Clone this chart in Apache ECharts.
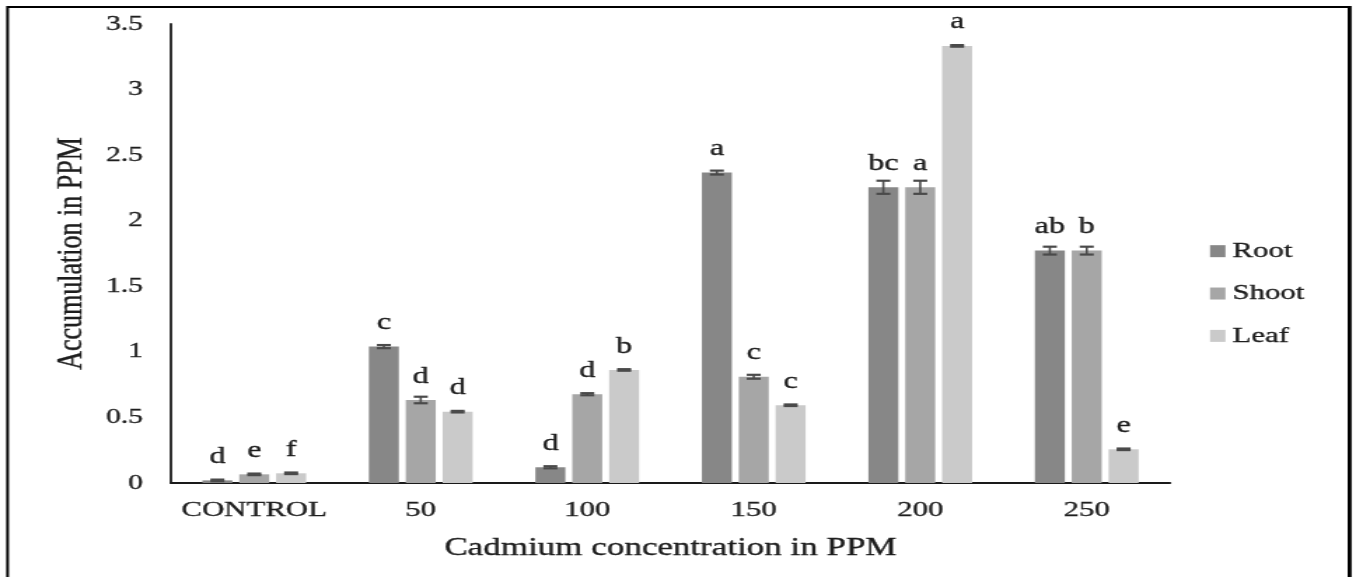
<!DOCTYPE html>
<html>
<head>
<meta charset="utf-8">
<script src="https://cdn.jsdelivr.net/npm/echarts@6/dist/echarts.min.js"></script>
<style>
  html, body { margin: 0; padding: 0; background: #fff; overflow: hidden; }
  #wrap { width: 1356px; height: 577px; overflow: hidden; position: relative; }
  /* the figure is drawn narrower and widened horizontally, giving its wide letterforms */
  #chart { width: 968px; height: 577px; transform: scaleX(1.40083); transform-origin: 0 0; }
</style>
</head>
<body>
<div id="wrap"><div id="chart"></div></div>
<script>
// Cadmium accumulation (PPM) by treatment concentration
const categories = ['CONTROL', '50', '100', '150', '200', '250'];
const yTicks = { min: 0, max: 3.5, step: 0.5 };

const rootValues  = [0.02, 1.04, 0.12, 2.367, 2.255, 1.772];
const shootValues = [0.066, 0.633, 0.677, 0.81, 2.255, 1.772];
const leafValues  = [0.074, 0.544, 0.862, 0.593, 3.333, 0.257];

const rootErrors  = [0.006, 0.012, 0.008, 0.015, 0.05, 0.03];
const shootErrors = [0.006, 0.025, 0.008, 0.015, 0.05, 0.03];
const leafErrors  = [0.006, 0.006, 0.006, 0.006, 0.006, 0.006];

const rootLetters  = ['d', 'c', 'd', 'a', 'bc', 'ab'];
const shootLetters = ['e', 'd', 'd', 'c', 'a', 'b'];
const leafLetters  = ['f', 'd', 'b', 'c', 'a', 'e'];

const seriesNames = ['Root', 'Shoot', 'Leaf'];
const colors = ['#878787', '#a6a6a6', '#cacaca'];

const FONT = '"Liberation Serif", "Times New Roman", serif';
const TEXT = '#1e1e1e';
// a faint outline in the text colour gives the letters a little more weight
const TEXT_WEIGHT = { textBorderColor: TEXT, textBorderWidth: 0.35 };
const BAR_W = 21.4;
const BAR_GAP = 0.23;
const CAP_W = 10;
const ERR_COLOR = '#4a4a4a';

const chart = echarts.init(document.getElementById('chart'), null, { renderer: 'canvas' });

function textStyle(size) {
  return Object.assign({ fontFamily: FONT, fontSize: size, color: TEXT }, TEXT_WEIGHT);
}

function barSeries(name, values, letters, color) {
  return {
    name: name,
    type: 'bar',
    barWidth: BAR_W,
    barGap: (BAR_GAP * 100) + '%',
    data: values,
    itemStyle: { color: color },
    label: Object.assign({
      show: true,
      position: 'top',
      distance: 12,
      formatter: p => letters[p.dataIndex]
    }, textStyle(23))
  };
}

function errorSeries(values, errs, slot) {
  return {
    type: 'custom',
    z: 10,
    silent: true,
    data: values.map((v, i) => [i, v, errs[i]]),
    renderItem: function (params, api) {
      const i = api.value(0), v = api.value(1), e = api.value(2);
      const hi = api.coord([i, v + e]);
      const lo = api.coord([i, v - e]);
      const cx = hi[0] + (slot - 1) * BAR_W * (1 + BAR_GAP);
      const hw = CAP_W / 2;
      const stem = { stroke: ERR_COLOR, lineWidth: 1.6 };
      const cap = { stroke: ERR_COLOR, lineWidth: 2.2 };
      return {
        type: 'group',
        children: [
          { type: 'line', shape: { x1: cx, y1: hi[1], x2: cx, y2: lo[1] }, style: stem },
          { type: 'line', shape: { x1: cx - hw, y1: hi[1], x2: cx + hw, y2: hi[1] }, style: cap },
          { type: 'line', shape: { x1: cx - hw, y1: lo[1], x2: cx + hw, y2: lo[1] }, style: cap }
        ]
      };
    }
  };
}

chart.setOption({
  animation: false,
  backgroundColor: '#fff',
  graphic: [
    {
      type: 'rect',
      shape: { x: 5.4, y: 7, width: 958.2, height: 640 },
      style: { fill: 'none', stroke: '#000', lineWidth: 2 },
      silent: true
    },
    {
      type: 'line',
      shape: { x1: 963.3, y1: 6, x2: 963.3, y2: 640 },
      style: { stroke: '#000', lineWidth: 2.6 },
      silent: true
    }
  ],
  grid: {
    left: 122.07,
    right: 132.8,
    top: 24,
    bottom: 94,
    containLabel: false,
    outerBoundsMode: 'none'
  },
  legend: {
    data: seriesNames,
    orient: 'vertical',
    left: 858.8,
    top: 235,
    icon: 'rect',
    itemWidth: 11,
    itemHeight: 12,
    itemGap: 20,
    textStyle: textStyle(22)
  },
  xAxis: {
    type: 'category',
    data: categories,
    name: 'Cadmium concentration in PPM',
    nameLocation: 'middle',
    nameGap: 53,
    nameTextStyle: textStyle(25),
    axisLine: { lineStyle: { color: '#1a1a1a', width: 2 } },
    axisTick: { show: false },
    axisLabel: Object.assign({ interval: 0, margin: 16 }, textStyle(22))
  },
  yAxis: {
    type: 'value',
    min: yTicks.min,
    max: yTicks.max,
    interval: yTicks.step,
    name: 'Accumulation in PPM',
    nameLocation: 'middle',
    nameGap: 57,
    nameTextStyle: textStyle(26),
    axisLine: { show: true, lineStyle: { color: '#1a1a1a', width: 1.8 } },
    axisTick: { show: false },
    splitLine: { show: false },
    axisLabel: Object.assign({ margin: 20 }, textStyle(21))
  },
  series: [
    barSeries(seriesNames[0], rootValues, rootLetters, colors[0]),
    barSeries(seriesNames[1], shootValues, shootLetters, colors[1]),
    barSeries(seriesNames[2], leafValues, leafLetters, colors[2]),
    errorSeries(rootValues, rootErrors, 0),
    errorSeries(shootValues, shootErrors, 1),
    errorSeries(leafValues, leafErrors, 2)
  ]
});
</script>
</body>
</html>
